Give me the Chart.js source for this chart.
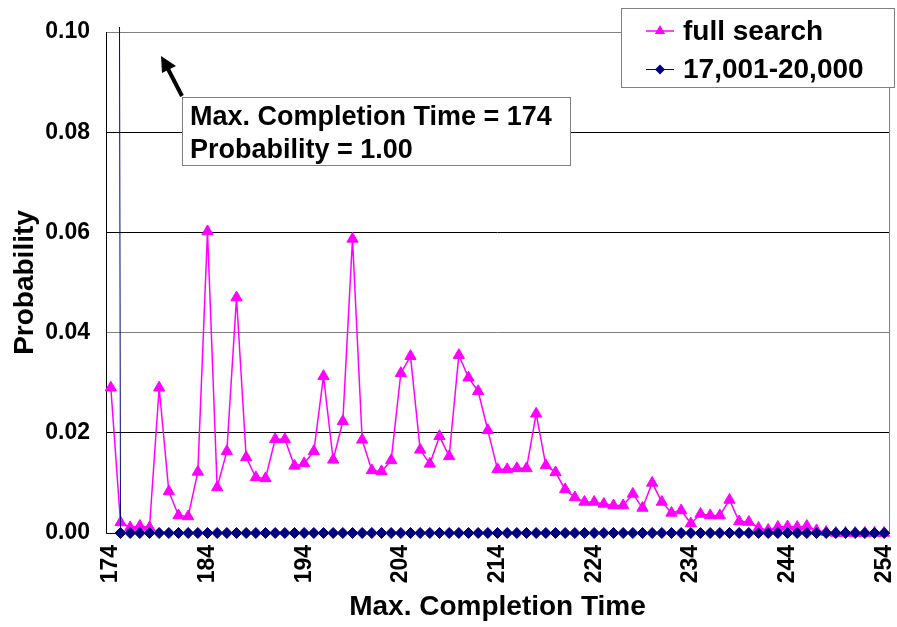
<!DOCTYPE html>
<html>
<head>
<meta charset="utf-8">
<script src="https://cdn.jsdelivr.net/npm/chart.js@4"></script>
<style>
  html, body { margin: 0; padding: 0; background: #fff; }
  #wrap { width: 897px; height: 627px; }
</style>
</head>
<body>
<div id="wrap"><canvas id="chart" width="897" height="627"></canvas></div>
<script>
const categories = [
  174, 175, 176, 177, 178, 179, 180, 181, 182, 183,
  184, 185, 186, 187, 188, 189, 190, 191, 192, 193,
  194, 195, 196, 197, 198, 199, 200, 201, 202, 203,
  204, 205, 206, 207, 208, 209, 210, 211, 212, 213,
  214, 215, 216, 217, 218, 219, 220, 221, 222, 223,
  224, 225, 226, 227, 228, 229, 230, 231, 232, 233,
  234, 235, 236, 237, 238, 239, 240, 241, 242, 243,
  244, 245, 246, 247, 248, 249, 250, 251, 252, 253,
  254
];

const fullSearch = [
  0.0290, 0.0021, 0.0011, 0.0014, 0.0011, 0.0290, 0.0083, 0.0035, 0.0033, 0.0122,
  0.0602, 0.0091, 0.0163, 0.0470, 0.0151, 0.0111, 0.0109, 0.0187, 0.0187, 0.0134,
  0.0139, 0.0163, 0.0313, 0.0146, 0.0223, 0.0587, 0.0186, 0.0125, 0.0123, 0.0145,
  0.0319, 0.0353, 0.0166, 0.0138, 0.0193, 0.0153, 0.0355, 0.0310, 0.0283, 0.0205,
  0.0127, 0.0127, 0.0129, 0.0129, 0.0238, 0.0135, 0.0121, 0.0087, 0.0071, 0.0062,
  0.0062, 0.0058, 0.0055, 0.0055, 0.0078, 0.0050, 0.0100, 0.0062, 0.0040, 0.0045,
  0.0019, 0.0038, 0.0035, 0.0035, 0.0066, 0.0023, 0.0022, 0.0010, 0.0006, 0.0012,
  0.0013, 0.0012, 0.0014, 0.0005, 0.0002, 0, 0, 0, 0, 0,
  0
];

const range17001to20000 = [
  1.00, 0, 0, 0, 0, 0, 0, 0, 0, 0,
  0, 0, 0, 0, 0, 0, 0, 0, 0, 0,
  0, 0, 0, 0, 0, 0, 0, 0, 0, 0,
  0, 0, 0, 0, 0, 0, 0, 0, 0, 0,
  0, 0, 0, 0, 0, 0, 0, 0, 0, 0,
  0, 0, 0, 0, 0, 0, 0, 0, 0, 0,
  0, 0, 0, 0, 0, 0, 0, 0, 0, 0,
  0, 0, 0, 0, 0, 0, 0, 0, 0, 0,
  0
];

const seriesNames = ["full search", "17,001-20,000"];
const annotationLines = ["Max. Completion Time = 174", "Probability = 1.00"];

const MAGENTA = "#ff00ff";
const NAVY = "#000080";
const FONT = "'Liberation Sans', Arial, sans-serif";

// frame: gray box round the plot, black axis lines on left and bottom
const framePlugin = {
    id: "frame",
    beforeDatasetsDraw(chart) {
        const { ctx, chartArea: a } = chart;
        ctx.save();
        ctx.strokeStyle = "#808080";
        ctx.lineWidth = 1;
        ctx.strokeRect(a.left + 0.5, a.top + 0.5, a.right - a.left, a.bottom - a.top);
        ctx.strokeStyle = "#000";
        ctx.beginPath();
        ctx.moveTo(a.left + 0.5, a.top);
        ctx.lineTo(a.left + 0.5, a.bottom + 0.5);
        ctx.lineTo(a.right + 1, a.bottom + 0.5);
        ctx.stroke();
        ctx.restore();
    },
};

function drawTriangle(ctx, x, y, r) {
    ctx.beginPath();
    ctx.moveTo(x, y - r);
    ctx.lineTo(x + r * 0.866, y + r * 0.5);
    ctx.lineTo(x - r * 0.866, y + r * 0.5);
    ctx.closePath();
    ctx.fill();
}

function drawDiamond(ctx, x, y, r) {
    ctx.beginPath();
    ctx.moveTo(x, y - r);
    ctx.lineTo(x + r, y);
    ctx.lineTo(x, y + r);
    ctx.lineTo(x - r, y);
    ctx.closePath();
    ctx.fill();
}

// legend box and the callout with its arrow
const overlayPlugin = {
    id: "overlay",
    afterDraw(chart) {
        const { ctx } = chart;
        ctx.save();

        // legend
        ctx.fillStyle = "#fff";
        ctx.fillRect(621, 8, 273, 79);
        ctx.strokeStyle = "#808080";
        ctx.lineWidth = 1;
        ctx.strokeRect(621.5, 8.5, 273, 79);

        ctx.strokeStyle = MAGENTA;
        ctx.lineWidth = 1.5;
        ctx.beginPath();
        ctx.moveTo(646, 31);
        ctx.lineTo(674, 31);
        ctx.stroke();
        ctx.fillStyle = MAGENTA;
        drawTriangle(ctx, 660, 31, 6);

        ctx.strokeStyle = NAVY;
        ctx.lineWidth = 1;
        ctx.beginPath();
        ctx.moveTo(646, 69.5);
        ctx.lineTo(674, 69.5);
        ctx.stroke();
        ctx.fillStyle = NAVY;
        drawDiamond(ctx, 660, 69.5, 5);

        ctx.fillStyle = "#000";
        ctx.font = "bold 28px " + FONT;
        ctx.textBaseline = "alphabetic";
        ctx.textAlign = "left";
        ctx.fillText(seriesNames[0], 683, 40);
        ctx.fillText(seriesNames[1], 683, 78);

        // callout
        ctx.fillStyle = "#fff";
        ctx.fillRect(182, 97, 388, 68);
        ctx.strokeStyle = "#808080";
        ctx.strokeRect(182.5, 97.5, 388, 68);
        ctx.fillStyle = "#000";
        ctx.font = "bold 27px " + FONT;
        ctx.fillText(annotationLines[0], 190, 125);
        ctx.fillText(annotationLines[1], 190, 158);

        // arrow
        ctx.strokeStyle = "#000";
        ctx.lineWidth = 4;
        ctx.beginPath();
        ctx.moveTo(182, 96);
        ctx.lineTo(168, 69);
        ctx.stroke();
        ctx.beginPath();
        ctx.moveTo(161, 56);
        ctx.lineTo(176, 66);
        ctx.lineTo(162, 73);
        ctx.closePath();
        ctx.fill();

        ctx.restore();
    },
};

new Chart(document.getElementById("chart").getContext("2d"), {
    type: "line",
    data: {
        labels: categories,
        datasets: [
            {
                label: seriesNames[0],
                data: fullSearch,
                borderColor: MAGENTA,
                backgroundColor: MAGENTA,
                borderWidth: 1.5,
                pointStyle: "triangle",
                pointRadius: 6.5,
                pointBorderWidth: 1,
                tension: 0,
                order: 2,
                clip: { left: 10, right: 10, top: 10, bottom: 10 },
            },
            {
                label: seriesNames[1],
                data: range17001to20000,
                borderColor: NAVY,
                backgroundColor: NAVY,
                borderWidth: 1,
                pointStyle: "rectRot",
                pointRadius: 5.5,
                pointBorderWidth: 1,
                tension: 0,
                order: 1,
                clip: { left: 10, right: 10, top: 5, bottom: 10 },
            },
        ],
    },
    options: {
        responsive: false,
        animation: false,
        layout: { padding: { top: 32, right: 8, left: 0, bottom: 0 } },
        plugins: {
            legend: { display: false },
            tooltip: { enabled: false },
        },
        scales: {
            x: {
                type: "category",
                offset: true,
                grid: { display: false, drawTicks: false },
                border: { display: false },
                ticks: {
                    autoSkip: false,
                    minRotation: 90,
                    maxRotation: 90,
                    padding: 12,
                    color: "#000",
                    font: { family: FONT, size: 23, weight: "bold" },
                    callback: function (value, index) {
                        return index % 10 === 0 ? String(this.getLabelForValue(value)) : null;
                    },
                },
                title: {
                    display: true,
                    text: "Max. Completion Time",
                    color: "#000",
                    font: { family: FONT, size: 28, weight: "bold" },
                    padding: { top: 0, bottom: 3 },
                },
                afterFit: (scale) => {
                    scale.height = 94;
                    scale.paddingLeft = 0;
                    scale.paddingRight = 0;
                },
            },
            y: {
                min: 0,
                max: 0.1,
                grid: {
                    drawTicks: false,
                    color: (c) => (c.index === 2 || c.index === 5 ? "#808080" : "#000"),
                },
                border: { display: false },
                ticks: {
                    stepSize: 0.02,
                    padding: 16,
                    color: "#000",
                    font: { family: FONT, size: 23, weight: "bold" },
                    callback: (v) => v.toFixed(2),
                },
                title: {
                    display: true,
                    text: "Probability",
                    color: "#000",
                    font: { family: FONT, size: 28, weight: "bold" },
                    padding: { top: 8, bottom: 0 },
                },
                afterFit: (scale) => {
                    scale.width = 106;
                    scale.paddingTop = 0;
                    scale.paddingBottom = 0;
                },
            },
        },
    },
    plugins: [framePlugin, overlayPlugin],
});
</script>
</body>
</html>
